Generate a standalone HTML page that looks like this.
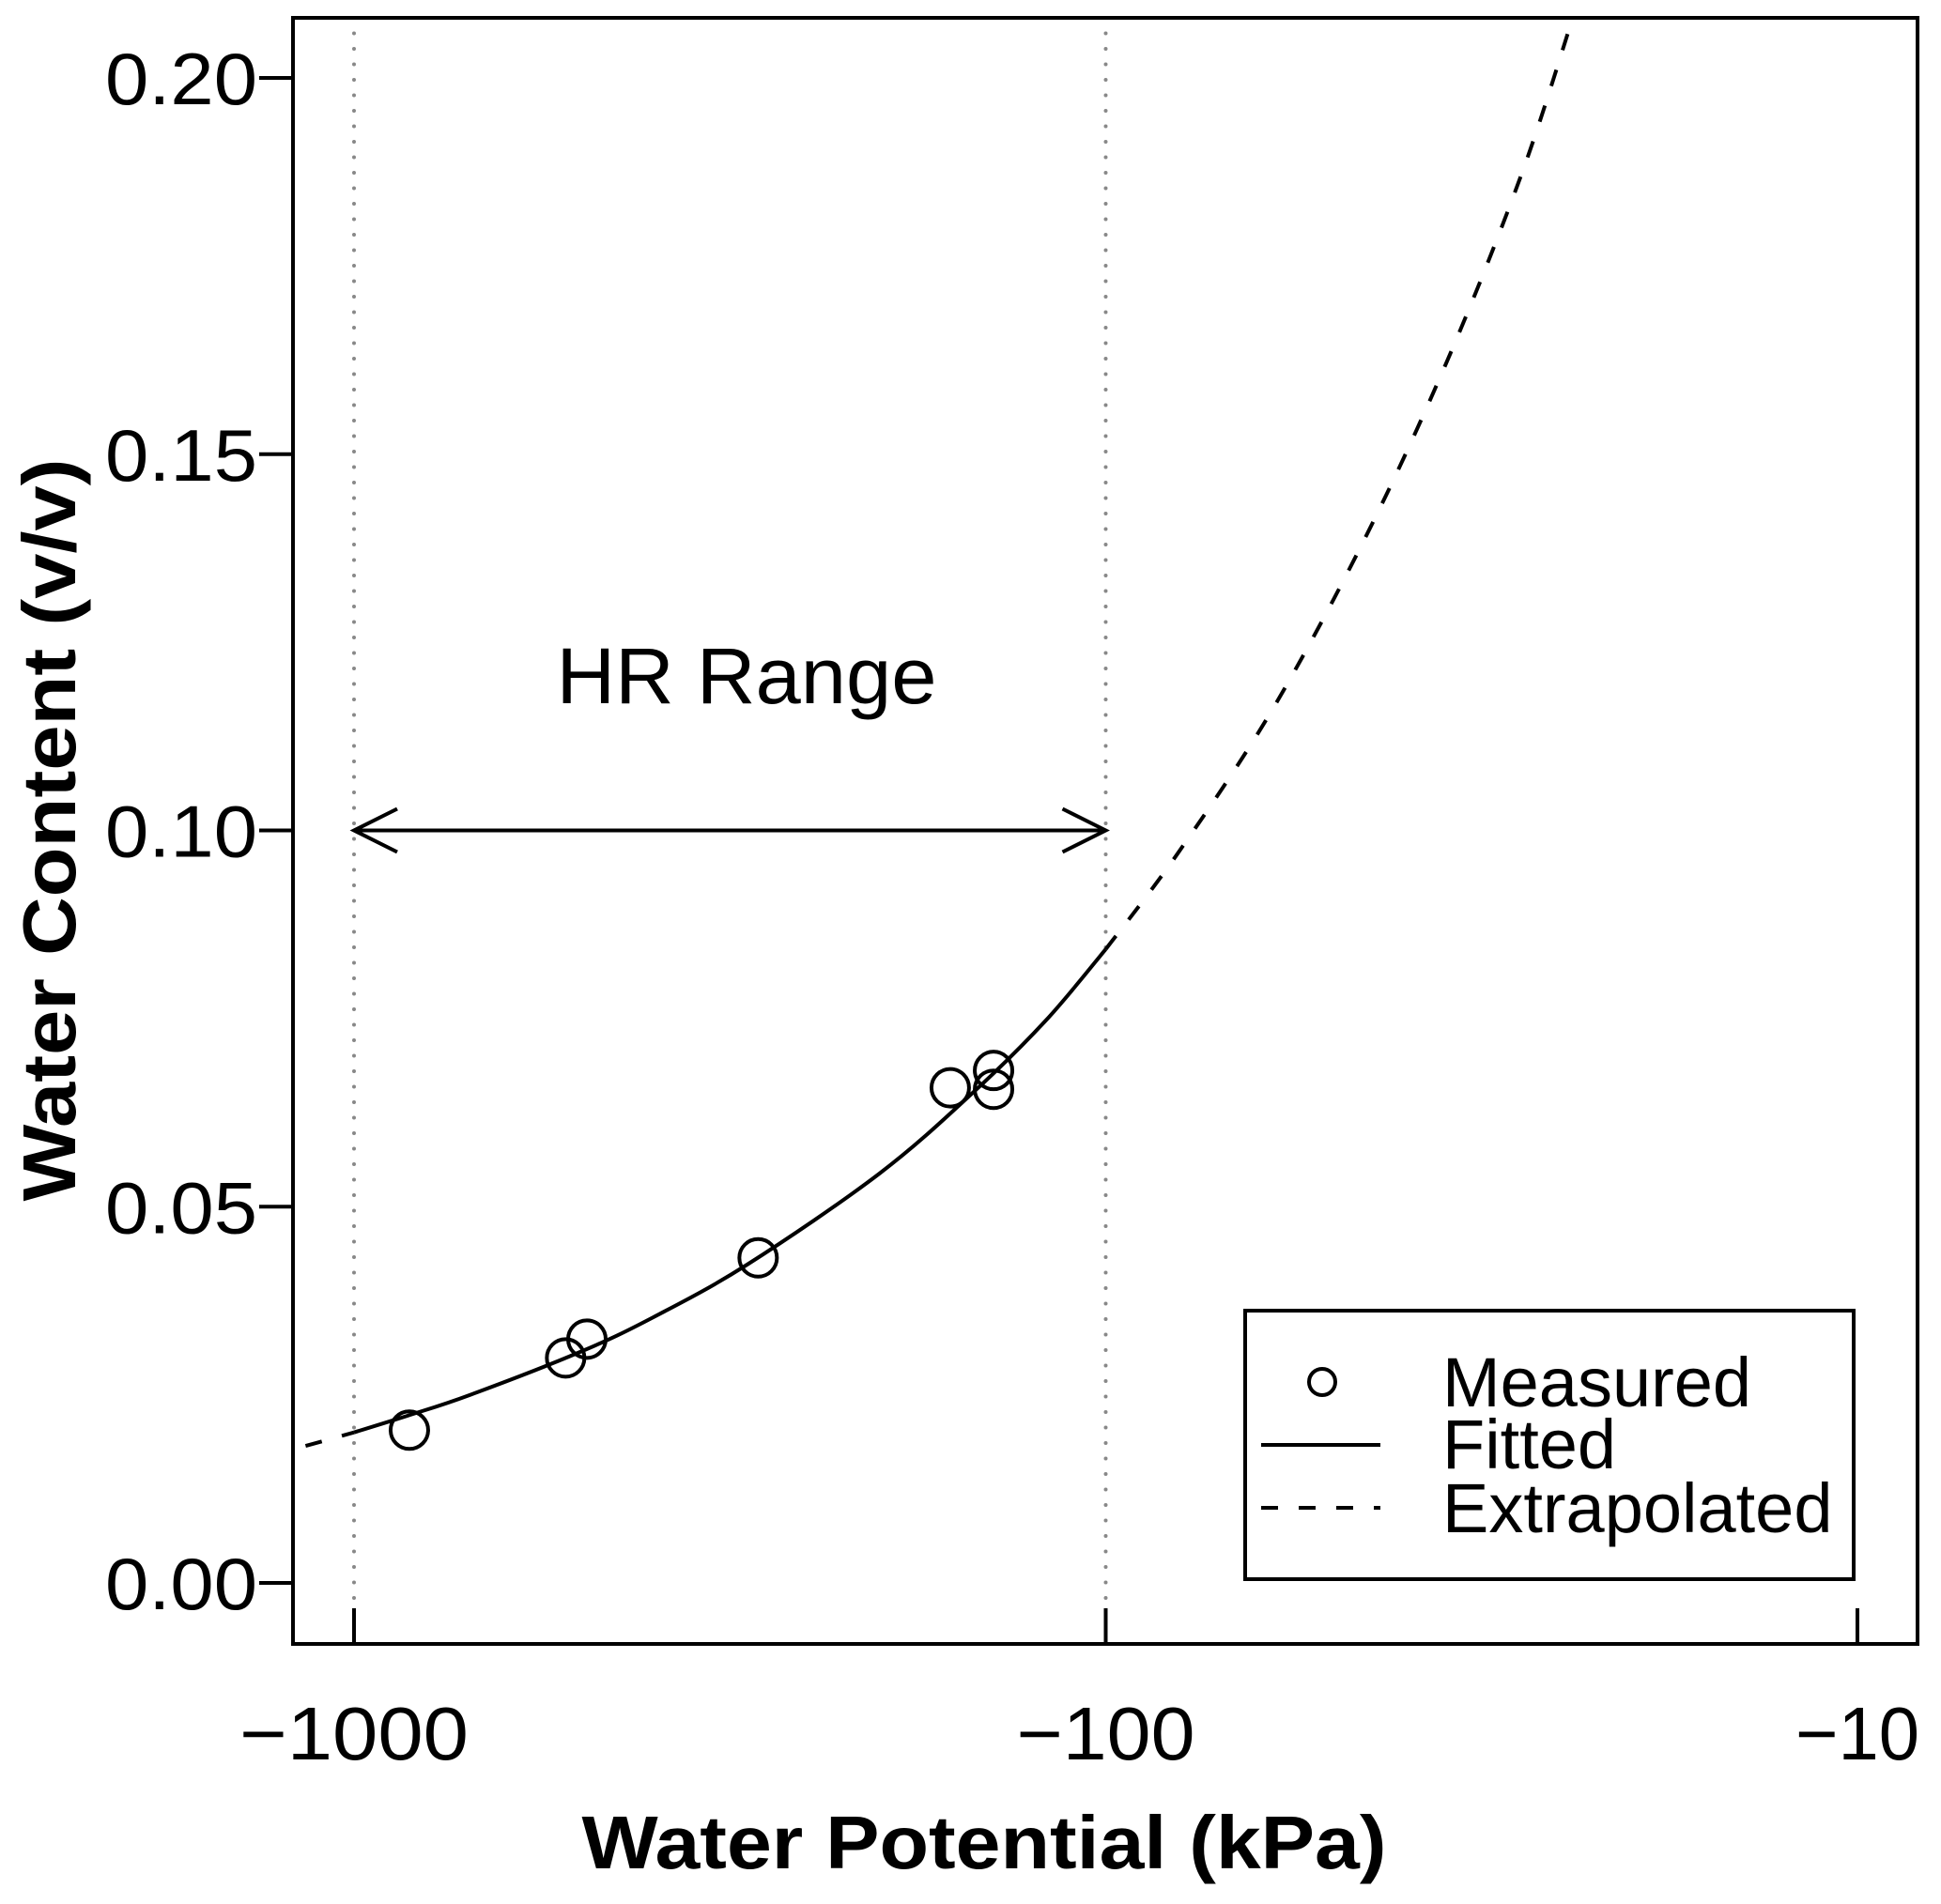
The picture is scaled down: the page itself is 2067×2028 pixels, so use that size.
<!DOCTYPE html>
<html><head><meta charset="utf-8"><style>
html,body{margin:0;padding:0;background:#fff;}
svg{display:block;font-family:"Liberation Sans",Arial,sans-serif;}
</style></head><body>
<svg id="chart" width="2067" height="2028" viewBox="0 0 2067 2028" xmlns="http://www.w3.org/2000/svg">
<g id="plot"></g>
</svg>
<script>
// Data
const measuredPotentials = [-844, -523, -490, -290, -161, -141, -141];
const measuredContents = [0.0203, 0.0299, 0.0324, 0.0432, 0.0658, 0.0681, 0.0656];
const fittedPotentials = [-1000, -850, -700, -500, -400, -300, -200, -150, -120, -100];
const fittedContents = [0.0200, 0.0222, 0.0250, 0.0307, 0.0353, 0.0423, 0.0544, 0.0652, 0.0748, 0.0842];
const extrapLowPotentials = [-1160, -1000];
const extrapLowContents = [0.0182, 0.0200];
const extrapHighPotentials = [-100, -80, -60, -45, -35, -28, -24];
const extrapHighContents = [0.0842, 0.0971, 0.1161, 0.1392, 0.1628, 0.1871, 0.2075];
const xTickValues = [-1000, -100, -10];
const xTickLabels = ["\u22121000", "\u2212100", "\u221210"];
const yTickValues = [0, 0.05, 0.10, 0.15, 0.20];
const yTickLabels = ["0.00", "0.05", "0.10", "0.15", "0.20"];
const hrRange = [-1000, -100];
const hrArrowLevel = 0.10;

const NS = "http://www.w3.org/2000/svg";
const L = 312, R = 2042, T = 19, B = 1751;
function xs(v){ return 377 + (3 - Math.log10(Math.abs(v))) * 800.5; }
function ys(v){ return 1686 - v * 8015; }
const g = document.getElementById('plot');
function mk(tag, attrs, parent){
  const e = document.createElementNS(NS, tag);
  for (const k in attrs) e.setAttribute(k, attrs[k]);
  (parent || g).appendChild(e);
  return e;
}
function smooth(px, py){
  const pts = px.map((p,i)=>[xs(p), ys(py[i])]);
  let d = 'M'+pts[0][0].toFixed(1)+','+pts[0][1].toFixed(1);
  for (let i=0;i<pts.length-1;i++){
    const p0=pts[Math.max(0,i-1)], p1=pts[i], p2=pts[i+1], p3=pts[Math.min(pts.length-1,i+2)];
    const c1=[p1[0]+(p2[0]-p0[0])/6, p1[1]+(p2[1]-p0[1])/6];
    const c2=[p2[0]-(p3[0]-p1[0])/6, p2[1]-(p3[1]-p1[1])/6];
    d+=' C'+c1[0].toFixed(1)+','+c1[1].toFixed(1)+' '+c2[0].toFixed(1)+','+c2[1].toFixed(1)+' '+p2[0].toFixed(1)+','+p2[1].toFixed(1);
  }
  return d;
}
const defs = mk('defs', {});
const cp = mk('clipPath', {id:'clip'}, defs);
mk('rect', {x:L, y:T, width:R-L, height:B-T}, cp);

hrRange.forEach((v,i)=>{
  const e = mk('line', {x1:xs(v), x2:xs(v), y1:T, y2:B, stroke:'#888', 'stroke-width':4, 'stroke-dasharray':'0 16.5', 'stroke-linecap':'round'});
  
  
});

const cg = mk('g', {'clip-path':'url(#clip)'});
let e;
e = mk('path', {d:smooth(fittedPotentials, fittedContents), fill:'none', stroke:'#000', 'stroke-width':4}, cg);


e = mk('path', {d:smooth(extrapLowPotentials, extrapLowContents), fill:'none', stroke:'#000', 'stroke-width':4, 'stroke-dasharray':'18 22'}, cg);


e = mk('path', {d:smooth(extrapHighPotentials, extrapHighContents), fill:'none', stroke:'#000', 'stroke-width':4, 'stroke-dasharray':'18 22'}, cg);



measuredPotentials.forEach((p,i)=>{
  const c = mk('circle', {cx:xs(p), cy:ys(measuredContents[i]), r:20, fill:'none', stroke:'#000', 'stroke-width':4});
  
  
});

const ay = ys(hrArrowLevel), ax1 = xs(hrRange[0]), ax2 = xs(hrRange[1]);
e = mk('path', {d:`M${ax1},${ay} L${ax2},${ay} M${ax1+46},${ay-23} L${ax1},${ay} L${ax1+46},${ay+23} M${ax2-46},${ay-23} L${ax2},${ay} L${ax2-46},${ay+23}`, fill:'none', stroke:'#000', 'stroke-width':4});


e = mk('text', {x:795, y:749, 'font-size':84, 'text-anchor':'middle', textLength:405, lengthAdjust:'spacingAndGlyphs'});
e.textContent = 'HR Range';



e = mk('rect', {x:L, y:T, width:R-L, height:B-T, fill:'none', stroke:'#000', 'stroke-width':4});



const xLabelWidths = [244, 190, 132];
xTickValues.forEach((v,i)=>{
  const t = mk('line', {x1:xs(v), x2:xs(v), y1:B, y2:B-38, stroke:'#000', 'stroke-width':4});
  
  
  const lb = mk('text', {x:xs(v), y:1874, 'font-size':80, 'text-anchor':'middle', textLength:xLabelWidths[i], lengthAdjust:'spacingAndGlyphs'});
  lb.textContent = xTickLabels[i];
  
  
});
yTickValues.forEach((v,i)=>{
  const t = mk('line', {x1:L, x2:L-36, y1:ys(v), y2:ys(v), stroke:'#000', 'stroke-width':4});
  
  
  const lb = mk('text', {x:274, y:ys(v)+28, 'font-size':78, 'text-anchor':'end', textLength:162, lengthAdjust:'spacingAndGlyphs'});
  lb.textContent = yTickLabels[i];
  
  
});

e = mk('text', {x:1048, y:1990, 'font-size':80, 'font-weight':'bold', 'text-anchor':'middle', textLength:857, lengthAdjust:'spacingAndGlyphs'});
e.textContent = 'Water Potential (kPa)';


e = mk('text', {x:0, y:0, 'font-size':80, 'font-weight':'bold', 'text-anchor':'middle', textLength:791, lengthAdjust:'spacingAndGlyphs', transform:'translate(80,884) rotate(-90)'});
e.textContent = 'Water Content (v/v)';



const lg = mk('g', {});


mk('rect', {x:1326, y:1396, width:648, height:286, fill:'#fff', stroke:'#000', 'stroke-width':4}, lg);
e = mk('circle', {cx:1408, cy:1472, r:14, fill:'none', stroke:'#000', 'stroke-width':4}, lg);


e = mk('line', {x1:1343, x2:1470, y1:1539, y2:1539, stroke:'#000', 'stroke-width':4}, lg);


e = mk('line', {x1:1343, x2:1470, y1:1606, y2:1606, stroke:'#000', 'stroke-width':4, 'stroke-dasharray':'18 22'}, lg);


[['Measured',1498],['Fitted',1564],['Extrapolated',1632]].forEach(([t,y])=>{
  const tx = mk('text', {x:1536, y:y, 'font-size':74}, lg);
  tx.textContent = t;
  
  
});
</script>
</body></html>
